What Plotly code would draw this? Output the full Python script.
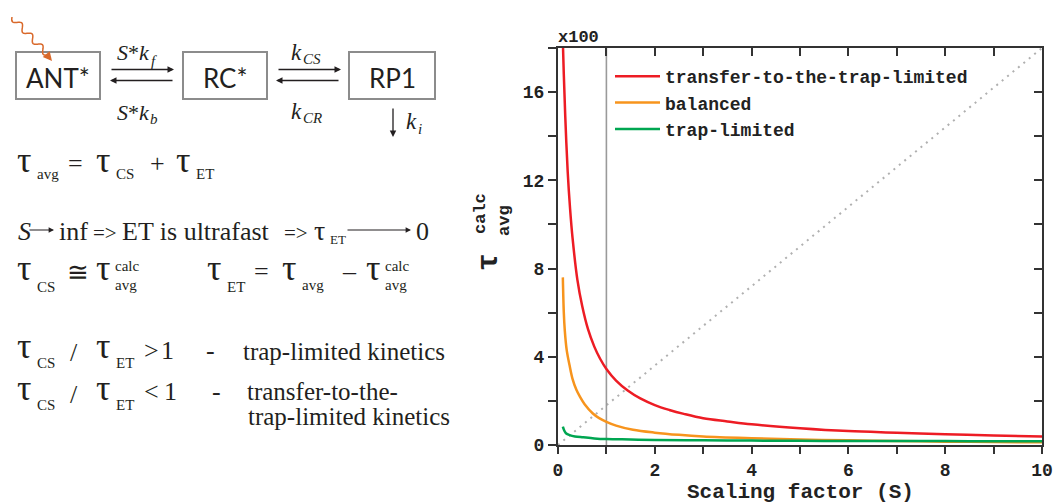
import numpy as np
import plotly.graph_objects as go

# ---------------- data ----------------
S_red = [0.10, 0.12, 0.15, 0.20, 0.25, 0.30, 0.40, 0.50, 0.62, 0.75, 0.87, 1.00, 1.20, 1.44,
         1.70, 2.00, 2.30, 2.60, 3.00, 3.50, 4.00, 5.00, 6.00, 7.00, 8.00, 9.00, 10.0]
tau_red = [18.3, 16.8, 14.9, 12.4, 10.7, 9.4, 7.5, 6.3, 5.25, 4.46, 3.91, 3.45, 2.92, 2.47,
           2.11, 1.81, 1.59, 1.41, 1.21, 1.07, 0.94, 0.76, 0.63, 0.56, 0.49, 0.43, 0.38]

S_orange = [0.10, 0.12, 0.14, 0.18, 0.24, 0.30, 0.38, 0.45, 0.55, 0.72, 0.85, 1.00, 1.20, 1.55,
            2.00, 2.50, 3.00, 4.00, 5.00, 6.00, 7.00, 8.00, 9.00, 10.0]
tau_orange = [7.6, 6.0, 5.2, 4.3, 3.6, 3.0, 2.5, 2.2, 1.85, 1.43, 1.22, 1.05, 0.88, 0.69,
              0.56, 0.46, 0.39, 0.31, 0.25, 0.21, 0.18, 0.15, 0.135, 0.12]

S_green = [0.10, 0.13, 0.17, 0.24, 0.35, 0.52, 0.75, 1.00, 1.50, 2.00, 3.00, 4.00, 5.00, 6.00,
           7.00, 8.00, 9.00, 10.0]
tau_green = [0.83, 0.65, 0.52, 0.45, 0.39, 0.35, 0.30, 0.27, 0.25, 0.23, 0.21, 0.20, 0.19, 0.18,
             0.18, 0.18, 0.17, 0.17]

series_names = ["transfer-to-the-trap-limited", "balanced", "trap-limited"]
series_colors = ["#ed1c24", "#f7941d", "#00a651"]

ref_S = [1, 1]            # vertical reference line at S = 1
ref_span = [0, 18]
diag_S = [0, 10]          # dotted diagonal
diag_tau = [0, 18]

x_range = [0, 10]
y_range = [0, 18]
x_title = "Scaling factor (S)"

# ---------------- layout helpers ----------------
W, H = 1056, 504
MONO = "Liberation Mono"
SERIF = "Liberation Serif"
SANS = "Lato"
TXT = "#231f20"


def px(x):
    return x / W


def py(y):
    return 1 - y / H


annotations = []
shapes = []


def txt(s, x, base, size, fam=SERIF, anchor="left", color=TXT, weight="normal"):
    k = 0.34 if fam == SERIF else 0.30
    annotations.append(dict(text=s, x=px(x), y=py(base - k * size), xref="paper", yref="paper",
                            xanchor=anchor, yanchor="middle", showarrow=False, borderpad=0,
                            font=dict(family=fam, size=size, color=color, weight=weight)))


def arrow(tx, ty, dx, dy, color=TXT, width=1.3, head=2, size=1.0):
    annotations.append(dict(text="", x=px(tx), y=py(ty), xref="paper", yref="paper",
                            ax=dx, ay=dy, showarrow=True, arrowhead=head, arrowsize=size,
                            arrowwidth=width, arrowcolor=color))


def box(x0, y0, x1, y1, label):
    shapes.append(dict(type="rect", xref="paper", yref="paper", x0=px(x0), x1=px(x1),
                       y0=py(y1), y1=py(y0), line=dict(color="#8c8c8c", width=2)))
    txt(label, (x0 + x1) / 2, 86, 26, fam=SANS, anchor="center")


# ---------------- kinetic scheme ----------------
box(16, 52, 100, 99, "ANT*")
box(183, 52, 267, 99, "RC*")
box(349, 52, 435, 99, "RP1")

arrow(174, 69.5, -64, 0)
arrow(110, 80.5, 64, 0)
arrow(341, 69.5, -64, 0)
arrow(276, 80.5, 64, 0)
arrow(393, 137, 0, -30)

txt("<i>S</i>*<i>k</i>", 116, 60, 22)
txt("<i>f</i>", 150, 66, 15)
txt("<i>S</i>*<i>k</i>", 116, 120, 22)
txt("<i>b</i>", 149, 124, 15)
txt("<i>k</i>", 290, 60, 23)
txt("<i>CS</i>", 302, 64, 15)
txt("<i>k</i>", 290, 119, 23)
txt("<i>CR</i>", 302, 123, 15)
txt("<i>k</i>", 405, 129, 23)
txt("<i>i</i>", 417, 134, 15)

# wavy excitation arrow
p0 = np.array([12.0, 17.0])
p1 = np.array([48.0, 55.0])
d = p1 - p0
L = np.hypot(*d)
u = d / L
n = np.array([-u[1], u[0]])
t = np.linspace(0, 1, 120)
pts = p0[None, :] + t[:, None] * d[None, :] + (3.0 * np.sin(2 * np.pi * 3.5 * t))[:, None] * n[None, :]
path = "M " + " L ".join(f"{px(a):.5f},{py(b):.5f}" for a, b in pts)
shapes.append(dict(type="path", xref="paper", yref="paper", path=path,
                   line=dict(color="#d9692b", width=1.5)))
arrow(52, 61, -5, -6, color="#d9692b", width=1.5, head=2, size=1.2)

# ---------------- equations ----------------
TAU = 36
SUB = 15
OP = 26

# line 1
txt("τ", 16, 172, TAU); txt("avg", 36, 179, SUB)
txt("=", 67, 172, OP)
txt("τ", 95, 172, TAU); txt("CS", 115, 179, SUB)
txt("+", 149, 172, OP)
txt("τ", 175, 172, TAU); txt("ET", 195, 179, SUB)

# line 2
txt("<i>S</i>", 17, 240, 26)
arrow(54, 230, -26, 0, width=1.2, head=2, size=0.9)
txt("inf", 58, 240, 26)
txt("=>", 92, 240, 21)
txt("ET is ultrafast", 121, 240, 26)
txt("=>", 283, 240, 21)
txt("τ", 313, 240, 28)
txt("ET", 329, 244, 13)
arrow(411, 230, -65, 0, width=1.2, head=2, size=0.9)
txt("0", 415, 240, 26)

# line 3
txt("τ", 16, 280, TAU); txt("CS", 36, 292, SUB)
txt("≅", 66, 281, OP)
txt("τ", 95, 280, TAU); txt("calc", 114, 271, SUB); txt("avg", 114, 290, SUB)
txt("τ", 206, 280, TAU); txt("ET", 226, 292, SUB)
txt("=", 253, 280, OP)
txt("τ", 281, 280, TAU); txt("avg", 301, 290, SUB)
txt("–", 341, 280, OP)
txt("τ", 365, 280, TAU); txt("calc", 384, 271, SUB); txt("avg", 384, 290, SUB)

# line 4
txt("τ", 16, 358, TAU); txt("CS", 36, 368, SUB)
txt("/", 69, 361, OP)
txt("τ", 95, 358, TAU); txt("ET", 115, 368, SUB)
txt(">", 143, 359, OP)
txt("1", 160, 359, OP)
txt("-", 205, 359, OP)
txt("trap-limited kinetics", 242, 360, 25)

# line 5
txt("τ", 16, 400, TAU); txt("CS", 36, 410, SUB)
txt("/", 69, 403, OP)
txt("τ", 95, 400, TAU); txt("ET", 115, 410, SUB)
txt("<", 143, 400, OP)
txt("1", 163, 400, OP)
txt("-", 211, 400, OP)
txt("transfer-to-the-", 246, 400, 25)
txt("trap-limited kinetics", 247, 425, 25)

# ---------------- chart ----------------
fig = go.Figure()
fig.add_trace(go.Scatter(x=diag_S, y=diag_tau, mode="lines", showlegend=False, hoverinfo="skip",
                         line=dict(color="#b0b0b0", width=2, dash="2px,5px")))
fig.add_trace(go.Scatter(x=ref_S, y=ref_span, mode="lines", showlegend=False, hoverinfo="skip",
                         line=dict(color="#9a9a9a", width=1.6)))
for S, tau, name, col in zip([S_red, S_orange, S_green], [tau_red, tau_orange, tau_green],
                             series_names, series_colors):
    fig.add_trace(go.Scatter(x=S, y=tau, mode="lines", name=name,
                             line=dict(color=col, width=2.5, shape="spline", smoothing=1.0)))
# helper trace for the inner ticks on the top / right frame
fig.add_trace(go.Scatter(x=[None], y=[None], xaxis="x3", yaxis="y3", showlegend=False,
                         hoverinfo="skip"))

tickfont = dict(family=MONO, size=18, color="#222", weight="bold")
axis_common = dict(showline=True, linecolor="#333", linewidth=2, mirror=True, showgrid=False,
                   zeroline=False, ticks="outside", tickwidth=2, tickcolor="#333",
                   automargin=False)
inner_common = dict(ticks="inside", ticklen=8, tickwidth=2, tickcolor="#333",
                    showticklabels=False, showline=False, showgrid=False, zeroline=False,
                    automargin=False)

# x-axis title
annotations.append(dict(text=x_title, x=px(800), y=py(492.5), xref="paper", yref="paper",
                        showarrow=False, xanchor="center", yanchor="middle", borderpad=0,
                        font=dict(family=MONO, size=21, color="#222", weight="bold")))
# y-axis title (rotated tau with stacked calc / avg)
annotations.append(dict(text="τ", x=px(489), y=py(262), xref="paper", yref="paper",
                        textangle=-90, showarrow=False, xanchor="center", yanchor="middle",
                        font=dict(family=MONO, size=30, color="#222", weight="bold")))
annotations.append(dict(text="calc", x=px(480), y=py(214), xref="paper", yref="paper",
                        textangle=-90, showarrow=False, xanchor="center", yanchor="middle",
                        font=dict(family=MONO, size=17, color="#222", weight="bold")))
annotations.append(dict(text="avg", x=px(504), y=py(221), xref="paper", yref="paper",
                        textangle=-90, showarrow=False, xanchor="center", yanchor="middle",
                        font=dict(family=MONO, size=17, color="#222", weight="bold")))
annotations.append(dict(text="x100", x=px(556), y=py(38), xref="paper", yref="paper",
                        showarrow=False, xanchor="left", yanchor="middle",
                        font=dict(family=MONO, size=17, color="#222", weight="bold")))

fig.update_layout(
    width=W, height=H,
    margin=dict(l=0, r=0, t=0, b=0, autoexpand=False),
    paper_bgcolor="white", plot_bgcolor="white",
    xaxis=dict(domain=[px(558), px(1042)], range=x_range, dtick=2, tick0=0, ticklen=7,
               minor=dict(dtick=1, ticks="outside", ticklen=7, tickwidth=2, tickcolor="#333"),
               tickfont=tickfont, **axis_common),
    yaxis=dict(domain=[py(445), py(48)], range=y_range, dtick=4, tick0=0, ticklen=8,
               minor=dict(dtick=2, ticks="outside", ticklen=8, tickwidth=2, tickcolor="#333"),
               tickfont=tickfont, **axis_common),
    xaxis3=dict(overlaying="x", side="top", anchor="y", range=x_range, dtick=1, **inner_common),
    yaxis3=dict(overlaying="y", side="right", anchor="x", range=y_range, dtick=2, **inner_common),
    legend=dict(x=px(610), y=py(58), xanchor="left", yanchor="top", bgcolor="rgba(0,0,0,0)",
                font=dict(family=MONO, size=18, color="#222", weight="bold"),
                itemwidth=45, tracegroupgap=0),
    showlegend=True,
    annotations=annotations,
    shapes=shapes,
)

fig.write_html("out.html")
